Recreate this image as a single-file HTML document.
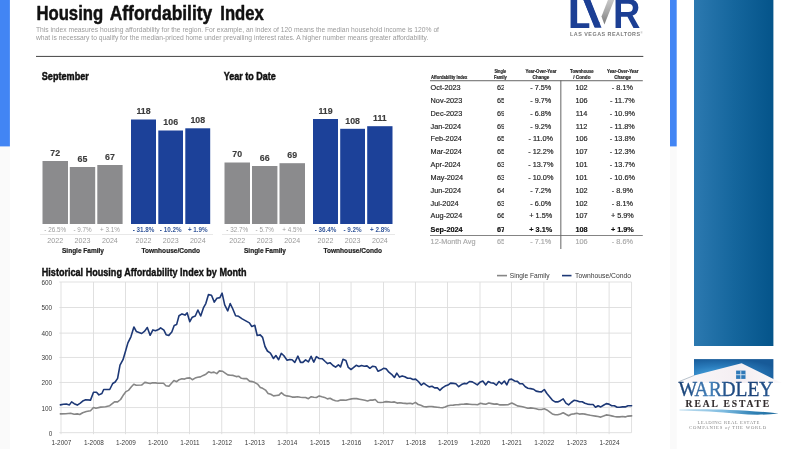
<!DOCTYPE html>
<html lang="en">
<head>
<meta charset="utf-8">
<title>Housing Affordability Index</title>
<style>
html,body{margin:0;padding:0;background:#fff;}
body{width:800px;height:449px;overflow:hidden;position:relative;font-family:"Liberation Sans",sans-serif;}
svg{display:block;position:absolute;left:0;top:0;overflow:visible;}
text{font-family:"Liberation Sans",sans-serif;}
.b{font-weight:bold;}
.serif{font-family:"Liberation Serif",serif;}
</style>
</head>
<body>
<svg width="800" height="449" viewBox="0 0 800 449">
<defs>
<linearGradient id="gpanel" x1="0" y1="0" x2="1" y2="0">
<stop offset="0" stop-color="#2c79b0"/><stop offset="0.5" stop-color="#15669d"/><stop offset="1" stop-color="#04548a"/>
</linearGradient>
<radialGradient id="glogo" cx="0.3" cy="0.75" r="0.8">
<stop offset="0" stop-color="#4aa6e0"/><stop offset="0.5" stop-color="#2a7cbc"/><stop offset="1" stop-color="#175a98"/>
</radialGradient>
<linearGradient id="gward" gradientUnits="userSpaceOnUse" x1="678" y1="0" x2="774" y2="0">
<stop offset="0" stop-color="#173d6e"/><stop offset="0.12" stop-color="#1f4f88"/><stop offset="0.33" stop-color="#4684bd"/><stop offset="0.52" stop-color="#1f4c84"/><stop offset="0.8" stop-color="#1b4278"/><stop offset="1" stop-color="#2a5d98"/>
</linearGradient>
<linearGradient id="gsilver" x1="0" y1="0" x2="0" y2="1">
<stop offset="0" stop-color="#c8c8c8"/><stop offset="0.5" stop-color="#a8a8a8"/><stop offset="1" stop-color="#7a7a7a"/>
</linearGradient>
<linearGradient id="gswoosh" x1="0" y1="0" x2="1" y2="0">
<stop offset="0" stop-color="#c4e0f0"/><stop offset="0.45" stop-color="#7dbbe0"/><stop offset="0.75" stop-color="#2f80b4"/><stop offset="1" stop-color="#1f6a9c"/>
</linearGradient>
<linearGradient id="groof" gradientUnits="userSpaceOnUse" x1="676" y1="0" x2="782" y2="0"><stop offset="0" stop-color="#ffffff"/><stop offset="0.25" stop-color="#f8f4f6"/><stop offset="0.6" stop-color="#f4eef2"/><stop offset="1" stop-color="#fbf9fa"/></linearGradient>
<clipPath id="sfclip"><rect x="480" y="60" width="24.1" height="200"/></clipPath>
</defs>
<rect x="-5" y="-5" width="810" height="459" fill="#ffffff"/>

<rect x="-5" y="146" width="14.9" height="310" fill="#fafafa"/>
<rect x="670" y="146" width="6.7" height="310" fill="#fafafa"/>
<rect x="-5" y="-5" width="14.9" height="151.4" fill="#4285f4"/>
<rect x="670" y="-5" width="6.7" height="151.4" fill="#4285f4"/>
<rect x="694" y="-5" width="79.4" height="351" fill="url(#gpanel)"/>
<g class="b" font-size="20.4" fill="#111" stroke="#111" stroke-width="0.5" stroke-linejoin="round">
<text x="36.4" y="20.3" textLength="66.8" lengthAdjust="spacingAndGlyphs">Housing</text>
<text x="109.7" y="20.3" textLength="102.6" lengthAdjust="spacingAndGlyphs">Affordability</text>
<text x="220.3" y="20.3" textLength="43.5" lengthAdjust="spacingAndGlyphs">Index</text>
</g>
<text x="36" y="32.3" font-size="6.9" fill="#9a9a9a" textLength="403" lengthAdjust="spacingAndGlyphs">This index measures housing affordability for the region. For example, an index of 120 means the median household income is 120% of</text>
<text x="36" y="39.5" font-size="6.9" fill="#9a9a9a" textLength="392.3" lengthAdjust="spacingAndGlyphs">what is necessary to qualify for the median-priced home under prevailing interest rates. A higher number means greater affordability.</text>
<rect x="36" y="55.9" width="607.3" height="1.1" fill="#555"/>
<g id="lvr">
<clipPath id="lclip"><rect x="560" y="0" width="29.3" height="40"/></clipPath>
<clipPath id="vclip"><polygon points="583.1,-1 590.0,-1 601.4,27.6 594.5,27.6"/></clipPath>
<g class="b" font-size="10" fill="#1c3f94">
<g clip-path="url(#lclip)"><text transform="translate(567.45,27.5) scale(4.58,4.2)">L</text></g>
<g clip-path="url(#vclip)"><text transform="translate(582.0,27.5) scale(5,4.2)" stroke="#1c3f94" stroke-width="0.5">V</text></g>
<text transform="translate(612.95,27.5) scale(3.8,4.2)">R</text>
</g>
<polygon points="608.1,-0.5 614.4,-0.5 604.4,24.4 601.5,16.6" fill="url(#gsilver)"/>
<text x="570.1" y="35.9" font-size="5.4" font-weight="bold" fill="#7c7c7c" textLength="70" lengthAdjust="spacing">LAS VEGAS REALTORS</text>
<text x="640.4" y="34.2" font-size="2.8" fill="#888">®</text>
</g>
<text x="41.8" y="80.1" class="b" font-size="10.3" fill="#111" stroke="#111" stroke-width="0.45" textLength="47" lengthAdjust="spacingAndGlyphs">September</text>
<text x="223.8" y="80.1" class="b" font-size="10.3" fill="#111" stroke="#111" stroke-width="0.45" textLength="52" lengthAdjust="spacingAndGlyphs">Year to Date</text>
<rect x="42.5" y="161" width="25.50" height="63.00" fill="#8b8b8d"/>
<text x="55.2" y="155.8" font-size="8.8" font-weight="bold" fill="#3c3c3c" stroke="#3c3c3c" stroke-width="0.15" text-anchor="middle">72</text>
<text x="55.2" y="232.3" font-size="6.3" fill="#9c9c9c" text-anchor="middle">- 26.5%</text>
<text x="55.2" y="243.4" font-size="7.1" fill="#999" text-anchor="middle">2022</text>
<rect x="69.8" y="167" width="25.40" height="57.00" fill="#8b8b8d"/>
<text x="82.5" y="161.8" font-size="8.8" font-weight="bold" fill="#3c3c3c" stroke="#3c3c3c" stroke-width="0.15" text-anchor="middle">65</text>
<text x="82.5" y="232.3" font-size="6.3" fill="#9c9c9c" text-anchor="middle">- 9.7%</text>
<text x="82.5" y="243.4" font-size="7.1" fill="#999" text-anchor="middle">2023</text>
<rect x="97.3" y="165" width="25.30" height="59.00" fill="#8b8b8d"/>
<text x="109.9" y="159.8" font-size="8.8" font-weight="bold" fill="#3c3c3c" stroke="#3c3c3c" stroke-width="0.15" text-anchor="middle">67</text>
<text x="109.9" y="232.3" font-size="6.3" fill="#9c9c9c" text-anchor="middle">+ 3.1%</text>
<text x="109.9" y="243.4" font-size="7.1" fill="#999" text-anchor="middle">2024</text>
<rect x="40" y="234.1" width="85" height="0.6" fill="#d8d8d8"/>
<text x="62" y="253.2" class="b" font-size="6.8" fill="#222" stroke="#222" stroke-width="0.2" textLength="42.0" lengthAdjust="spacingAndGlyphs">Single Family</text>
<rect x="131" y="119.5" width="25.00" height="104.50" fill="#1c4199"/>
<text x="143.5" y="114.3" font-size="8.8" font-weight="bold" fill="#3c3c3c" stroke="#3c3c3c" stroke-width="0.15" text-anchor="middle">118</text>
<text x="143.5" y="232.3" font-size="6.3" font-weight="bold" fill="#34579b" text-anchor="middle">- 31.8%</text>
<text x="143.5" y="243.4" font-size="7.1" fill="#999" text-anchor="middle">2022</text>
<rect x="158.3" y="130.5" width="24.70" height="93.50" fill="#1c4199"/>
<text x="170.7" y="125.3" font-size="8.8" font-weight="bold" fill="#3c3c3c" stroke="#3c3c3c" stroke-width="0.15" text-anchor="middle">106</text>
<text x="170.7" y="232.3" font-size="6.3" font-weight="bold" fill="#34579b" text-anchor="middle">- 10.2%</text>
<text x="170.7" y="243.4" font-size="7.1" fill="#999" text-anchor="middle">2023</text>
<rect x="185.3" y="128.3" width="24.90" height="95.70" fill="#1c4199"/>
<text x="197.8" y="123.1" font-size="8.8" font-weight="bold" fill="#3c3c3c" stroke="#3c3c3c" stroke-width="0.15" text-anchor="middle">108</text>
<text x="197.8" y="232.3" font-size="6.3" font-weight="bold" fill="#34579b" text-anchor="middle">+ 1.9%</text>
<text x="197.8" y="243.4" font-size="7.1" fill="#999" text-anchor="middle">2024</text>
<rect x="125" y="234.1" width="88" height="0.6" fill="#d8d8d8"/>
<text x="141.5" y="253.2" class="b" font-size="6.8" fill="#222" stroke="#222" stroke-width="0.2" textLength="58.5" lengthAdjust="spacingAndGlyphs">Townhouse/Condo</text>
<rect x="224.5" y="162.5" width="25.50" height="61.50" fill="#8b8b8d"/>
<text x="237.2" y="157.3" font-size="8.8" font-weight="bold" fill="#3c3c3c" stroke="#3c3c3c" stroke-width="0.15" text-anchor="middle">70</text>
<text x="237.2" y="232.3" font-size="6.3" fill="#9c9c9c" text-anchor="middle">- 32.7%</text>
<text x="237.2" y="243.4" font-size="7.1" fill="#999" text-anchor="middle">2022</text>
<rect x="252" y="166" width="25.40" height="58.00" fill="#8b8b8d"/>
<text x="264.7" y="160.8" font-size="8.8" font-weight="bold" fill="#3c3c3c" stroke="#3c3c3c" stroke-width="0.15" text-anchor="middle">66</text>
<text x="264.7" y="232.3" font-size="6.3" fill="#9c9c9c" text-anchor="middle">- 5.7%</text>
<text x="264.7" y="243.4" font-size="7.1" fill="#999" text-anchor="middle">2023</text>
<rect x="279.5" y="163.2" width="25.50" height="60.80" fill="#8b8b8d"/>
<text x="292.2" y="158.0" font-size="8.8" font-weight="bold" fill="#3c3c3c" stroke="#3c3c3c" stroke-width="0.15" text-anchor="middle">69</text>
<text x="292.2" y="232.3" font-size="6.3" fill="#9c9c9c" text-anchor="middle">+ 4.5%</text>
<text x="292.2" y="243.4" font-size="7.1" fill="#999" text-anchor="middle">2024</text>
<rect x="222" y="234.1" width="86" height="0.6" fill="#d8d8d8"/>
<text x="244" y="253.2" class="b" font-size="6.8" fill="#222" stroke="#222" stroke-width="0.2" textLength="42.0" lengthAdjust="spacingAndGlyphs">Single Family</text>
<rect x="313" y="119" width="25.00" height="105.00" fill="#1c4199"/>
<text x="325.5" y="113.8" font-size="8.8" font-weight="bold" fill="#3c3c3c" stroke="#3c3c3c" stroke-width="0.15" text-anchor="middle">119</text>
<text x="325.5" y="232.3" font-size="6.3" font-weight="bold" fill="#34579b" text-anchor="middle">- 36.4%</text>
<text x="325.5" y="243.4" font-size="7.1" fill="#999" text-anchor="middle">2022</text>
<rect x="340.2" y="128.8" width="24.80" height="95.20" fill="#1c4199"/>
<text x="352.6" y="123.6" font-size="8.8" font-weight="bold" fill="#3c3c3c" stroke="#3c3c3c" stroke-width="0.15" text-anchor="middle">108</text>
<text x="352.6" y="232.3" font-size="6.3" font-weight="bold" fill="#34579b" text-anchor="middle">- 9.2%</text>
<text x="352.6" y="243.4" font-size="7.1" fill="#999" text-anchor="middle">2023</text>
<rect x="367.2" y="126.2" width="25.30" height="97.80" fill="#1c4199"/>
<text x="379.9" y="121.0" font-size="8.8" font-weight="bold" fill="#3c3c3c" stroke="#3c3c3c" stroke-width="0.15" text-anchor="middle">111</text>
<text x="379.9" y="232.3" font-size="6.3" font-weight="bold" fill="#34579b" text-anchor="middle">+ 2.8%</text>
<text x="379.9" y="243.4" font-size="7.1" fill="#999" text-anchor="middle">2024</text>
<rect x="308" y="234.1" width="87" height="0.6" fill="#d8d8d8"/>
<text x="323.5" y="253.2" class="b" font-size="6.8" fill="#222" stroke="#222" stroke-width="0.2" textLength="58.5" lengthAdjust="spacingAndGlyphs">Townhouse/Condo</text>
<g id="table">
<text x="431" y="78.8" font-size="5.1" font-weight="bold" fill="#222" stroke="#222" stroke-width="0.18" lengthAdjust="spacingAndGlyphs" textLength="36.4">Affordability Index</text>
<text x="494.4" y="73.4" font-size="5.1" font-weight="bold" fill="#222" stroke="#222" stroke-width="0.18" lengthAdjust="spacingAndGlyphs" textLength="11.7">Single</text>
<text x="493.9" y="78.8" font-size="5.1" font-weight="bold" fill="#222" stroke="#222" stroke-width="0.18" lengthAdjust="spacingAndGlyphs" textLength="12.9">Family</text>
<text x="525.5" y="73.4" font-size="5.1" font-weight="bold" fill="#222" stroke="#222" stroke-width="0.18" lengthAdjust="spacingAndGlyphs" textLength="31">Year-Over-Year</text>
<text x="532.6" y="78.8" font-size="5.1" font-weight="bold" fill="#222" stroke="#222" stroke-width="0.18" lengthAdjust="spacingAndGlyphs" textLength="16.7">Change</text>
<text x="570.1" y="73.4" font-size="5.1" font-weight="bold" fill="#222" stroke="#222" stroke-width="0.18" lengthAdjust="spacingAndGlyphs" textLength="23.6">Townhouse</text>
<text x="573.3" y="78.8" font-size="5.1" font-weight="bold" fill="#222" stroke="#222" stroke-width="0.18" lengthAdjust="spacingAndGlyphs" textLength="17.2">/ Condo</text>
<text x="607.0" y="73.4" font-size="5.1" font-weight="bold" fill="#222" stroke="#222" stroke-width="0.18" lengthAdjust="spacingAndGlyphs" textLength="31.4">Year-Over-Year</text>
<text x="614.2" y="78.8" font-size="5.1" font-weight="bold" fill="#222" stroke="#222" stroke-width="0.18" lengthAdjust="spacingAndGlyphs" textLength="16.9">Change</text>
<rect x="430" y="80.3" width="212.8" height="0.9" fill="#555"/>
<rect x="560.4" y="80.5" width="0.9" height="168.5" fill="#555"/>
<text x="430.6" y="90.1" font-size="7.3" stroke="#262626" stroke-width="0.18" fill="#262626">Oct-2023</text>
<text x="496.9" y="90.1" font-size="7.3" stroke="#262626" stroke-width="0.18" fill="#262626" clip-path="url(#sfclip)">62</text>
<text x="540.8" y="90.1" font-size="7.3" stroke="#262626" stroke-width="0.18" fill="#262626" text-anchor="middle">- 7.5%</text>
<text x="581.6" y="90.1" font-size="7.3" stroke="#262626" stroke-width="0.18" fill="#262626" text-anchor="middle">102</text>
<text x="622.4" y="90.1" font-size="7.3" stroke="#262626" stroke-width="0.18" fill="#262626" text-anchor="middle">- 8.1%</text>
<text x="430.6" y="102.9" font-size="7.3" stroke="#262626" stroke-width="0.18" fill="#262626">Nov-2023</text>
<text x="496.9" y="102.9" font-size="7.3" stroke="#262626" stroke-width="0.18" fill="#262626" clip-path="url(#sfclip)">65</text>
<text x="540.8" y="102.9" font-size="7.3" stroke="#262626" stroke-width="0.18" fill="#262626" text-anchor="middle">- 9.7%</text>
<text x="581.6" y="102.9" font-size="7.3" stroke="#262626" stroke-width="0.18" fill="#262626" text-anchor="middle">106</text>
<text x="622.4" y="102.9" font-size="7.3" stroke="#262626" stroke-width="0.18" fill="#262626" text-anchor="middle">- 11.7%</text>
<text x="430.6" y="115.8" font-size="7.3" stroke="#262626" stroke-width="0.18" fill="#262626">Dec-2023</text>
<text x="496.9" y="115.8" font-size="7.3" stroke="#262626" stroke-width="0.18" fill="#262626" clip-path="url(#sfclip)">69</text>
<text x="540.8" y="115.8" font-size="7.3" stroke="#262626" stroke-width="0.18" fill="#262626" text-anchor="middle">- 6.8%</text>
<text x="581.6" y="115.8" font-size="7.3" stroke="#262626" stroke-width="0.18" fill="#262626" text-anchor="middle">114</text>
<text x="622.4" y="115.8" font-size="7.3" stroke="#262626" stroke-width="0.18" fill="#262626" text-anchor="middle">- 10.9%</text>
<text x="430.6" y="128.6" font-size="7.3" stroke="#262626" stroke-width="0.18" fill="#262626">Jan-2024</text>
<text x="496.9" y="128.6" font-size="7.3" stroke="#262626" stroke-width="0.18" fill="#262626" clip-path="url(#sfclip)">69</text>
<text x="540.8" y="128.6" font-size="7.3" stroke="#262626" stroke-width="0.18" fill="#262626" text-anchor="middle">- 9.2%</text>
<text x="581.6" y="128.6" font-size="7.3" stroke="#262626" stroke-width="0.18" fill="#262626" text-anchor="middle">112</text>
<text x="622.4" y="128.6" font-size="7.3" stroke="#262626" stroke-width="0.18" fill="#262626" text-anchor="middle">- 11.8%</text>
<text x="430.6" y="141.4" font-size="7.3" stroke="#262626" stroke-width="0.18" fill="#262626">Feb-2024</text>
<text x="496.9" y="141.4" font-size="7.3" stroke="#262626" stroke-width="0.18" fill="#262626" clip-path="url(#sfclip)">65</text>
<text x="540.8" y="141.4" font-size="7.3" stroke="#262626" stroke-width="0.18" fill="#262626" text-anchor="middle">- 11.0%</text>
<text x="581.6" y="141.4" font-size="7.3" stroke="#262626" stroke-width="0.18" fill="#262626" text-anchor="middle">106</text>
<text x="622.4" y="141.4" font-size="7.3" stroke="#262626" stroke-width="0.18" fill="#262626" text-anchor="middle">- 13.8%</text>
<text x="430.6" y="154.2" font-size="7.3" stroke="#262626" stroke-width="0.18" fill="#262626">Mar-2024</text>
<text x="496.9" y="154.2" font-size="7.3" stroke="#262626" stroke-width="0.18" fill="#262626" clip-path="url(#sfclip)">65</text>
<text x="540.8" y="154.2" font-size="7.3" stroke="#262626" stroke-width="0.18" fill="#262626" text-anchor="middle">- 12.2%</text>
<text x="581.6" y="154.2" font-size="7.3" stroke="#262626" stroke-width="0.18" fill="#262626" text-anchor="middle">107</text>
<text x="622.4" y="154.2" font-size="7.3" stroke="#262626" stroke-width="0.18" fill="#262626" text-anchor="middle">- 12.3%</text>
<text x="430.6" y="167.1" font-size="7.3" stroke="#262626" stroke-width="0.18" fill="#262626">Apr-2024</text>
<text x="496.9" y="167.1" font-size="7.3" stroke="#262626" stroke-width="0.18" fill="#262626" clip-path="url(#sfclip)">63</text>
<text x="540.8" y="167.1" font-size="7.3" stroke="#262626" stroke-width="0.18" fill="#262626" text-anchor="middle">- 13.7%</text>
<text x="581.6" y="167.1" font-size="7.3" stroke="#262626" stroke-width="0.18" fill="#262626" text-anchor="middle">101</text>
<text x="622.4" y="167.1" font-size="7.3" stroke="#262626" stroke-width="0.18" fill="#262626" text-anchor="middle">- 13.7%</text>
<text x="430.6" y="179.9" font-size="7.3" stroke="#262626" stroke-width="0.18" fill="#262626">May-2024</text>
<text x="496.9" y="179.9" font-size="7.3" stroke="#262626" stroke-width="0.18" fill="#262626" clip-path="url(#sfclip)">63</text>
<text x="540.8" y="179.9" font-size="7.3" stroke="#262626" stroke-width="0.18" fill="#262626" text-anchor="middle">- 10.0%</text>
<text x="581.6" y="179.9" font-size="7.3" stroke="#262626" stroke-width="0.18" fill="#262626" text-anchor="middle">101</text>
<text x="622.4" y="179.9" font-size="7.3" stroke="#262626" stroke-width="0.18" fill="#262626" text-anchor="middle">- 10.6%</text>
<text x="430.6" y="192.7" font-size="7.3" stroke="#262626" stroke-width="0.18" fill="#262626">Jun-2024</text>
<text x="496.9" y="192.7" font-size="7.3" stroke="#262626" stroke-width="0.18" fill="#262626" clip-path="url(#sfclip)">64</text>
<text x="540.8" y="192.7" font-size="7.3" stroke="#262626" stroke-width="0.18" fill="#262626" text-anchor="middle">- 7.2%</text>
<text x="581.6" y="192.7" font-size="7.3" stroke="#262626" stroke-width="0.18" fill="#262626" text-anchor="middle">102</text>
<text x="622.4" y="192.7" font-size="7.3" stroke="#262626" stroke-width="0.18" fill="#262626" text-anchor="middle">- 8.9%</text>
<text x="430.6" y="205.6" font-size="7.3" stroke="#262626" stroke-width="0.18" fill="#262626">Jul-2024</text>
<text x="496.9" y="205.6" font-size="7.3" stroke="#262626" stroke-width="0.18" fill="#262626" clip-path="url(#sfclip)">63</text>
<text x="540.8" y="205.6" font-size="7.3" stroke="#262626" stroke-width="0.18" fill="#262626" text-anchor="middle">- 6.0%</text>
<text x="581.6" y="205.6" font-size="7.3" stroke="#262626" stroke-width="0.18" fill="#262626" text-anchor="middle">102</text>
<text x="622.4" y="205.6" font-size="7.3" stroke="#262626" stroke-width="0.18" fill="#262626" text-anchor="middle">- 8.1%</text>
<text x="430.6" y="218.4" font-size="7.3" stroke="#262626" stroke-width="0.18" fill="#262626">Aug-2024</text>
<text x="496.9" y="218.4" font-size="7.3" stroke="#262626" stroke-width="0.18" fill="#262626" clip-path="url(#sfclip)">66</text>
<text x="540.8" y="218.4" font-size="7.3" stroke="#262626" stroke-width="0.18" fill="#262626" text-anchor="middle">+ 1.5%</text>
<text x="581.6" y="218.4" font-size="7.3" stroke="#262626" stroke-width="0.18" fill="#262626" text-anchor="middle">107</text>
<text x="622.4" y="218.4" font-size="7.3" stroke="#262626" stroke-width="0.18" fill="#262626" text-anchor="middle">+ 5.9%</text>
<text x="430.6" y="231.6" font-size="7.3" font-weight="bold" stroke="#111" stroke-width="0.18" fill="#111">Sep-2024</text>
<text x="496.9" y="231.6" font-size="7.3" font-weight="bold" stroke="#111" stroke-width="0.18" fill="#111" clip-path="url(#sfclip)">67</text>
<text x="540.8" y="231.6" font-size="7.3" font-weight="bold" stroke="#111" stroke-width="0.18" fill="#111" text-anchor="middle">+ 3.1%</text>
<text x="581.6" y="231.6" font-size="7.3" font-weight="bold" stroke="#111" stroke-width="0.18" fill="#111" text-anchor="middle">108</text>
<text x="622.4" y="231.6" font-size="7.3" font-weight="bold" stroke="#111" stroke-width="0.18" fill="#111" text-anchor="middle">+ 1.9%</text>
<text x="430.6" y="244.4" font-size="7.3" stroke="#aaa" stroke-width="0.18" fill="#aaa">12-Month Avg</text>
<text x="496.9" y="244.4" font-size="7.3" stroke="#aaa" stroke-width="0.18" fill="#aaa" clip-path="url(#sfclip)">65</text>
<text x="540.8" y="244.4" font-size="7.3" stroke="#aaa" stroke-width="0.18" fill="#aaa" text-anchor="middle">- 7.1%</text>
<text x="581.6" y="244.4" font-size="7.3" stroke="#aaa" stroke-width="0.18" fill="#aaa" text-anchor="middle">106</text>
<text x="622.4" y="244.4" font-size="7.3" stroke="#aaa" stroke-width="0.18" fill="#aaa" text-anchor="middle">- 8.6%</text>
<rect x="430" y="235" width="212.8" height="0.8" fill="#666"/>
</g>
<g id="hist">
<text x="41.8" y="275.5" class="b" font-size="10.6" fill="#111" stroke="#111" stroke-width="0.4" textLength="204.8" lengthAdjust="spacingAndGlyphs">Historical Housing Affordability Index by Month</text>
<rect x="59.35" y="281.55" width="572.2" height="0.9" fill="#dddddd"/>
<text x="52.2" y="284.9" font-size="6.4" fill="#3a3a3a" text-anchor="end">600</text>
<rect x="59.35" y="307.05" width="572.2" height="0.9" fill="#dddddd"/>
<text x="52.2" y="310.4" font-size="6.4" fill="#3a3a3a" text-anchor="end">500</text>
<rect x="59.35" y="332.65" width="572.2" height="0.9" fill="#dddddd"/>
<text x="52.2" y="336.0" font-size="6.4" fill="#3a3a3a" text-anchor="end">400</text>
<rect x="59.35" y="356.95" width="572.2" height="0.9" fill="#dddddd"/>
<text x="52.2" y="360.3" font-size="6.4" fill="#3a3a3a" text-anchor="end">300</text>
<rect x="59.35" y="381.95" width="572.2" height="0.9" fill="#dddddd"/>
<text x="52.2" y="385.3" font-size="6.4" fill="#3a3a3a" text-anchor="end">200</text>
<rect x="59.35" y="407.15" width="572.2" height="0.9" fill="#dddddd"/>
<text x="52.2" y="410.5" font-size="6.4" fill="#3a3a3a" text-anchor="end">100</text>
<rect x="59.35" y="432.25" width="572.2" height="0.9" fill="#dddddd"/>
<text x="52.2" y="435.6" font-size="6.4" fill="#3a3a3a" text-anchor="end">0</text>
<rect x="60.55" y="282.0" width="0.9" height="152.2" fill="#dddddd"/>
<text x="61.4" y="445.4" font-size="6.4" fill="#3a3a3a" text-anchor="middle">1-2007</text>
<rect x="93.05" y="282.0" width="0.9" height="152.2" fill="#dddddd"/>
<text x="93.9" y="445.4" font-size="6.4" fill="#3a3a3a" text-anchor="middle">1-2008</text>
<rect x="125.00" y="282.0" width="0.9" height="152.2" fill="#dddddd"/>
<text x="125.9" y="445.4" font-size="6.4" fill="#3a3a3a" text-anchor="middle">1-2009</text>
<rect x="157.05" y="282.0" width="0.9" height="152.2" fill="#dddddd"/>
<text x="157.9" y="445.4" font-size="6.4" fill="#3a3a3a" text-anchor="middle">1-2010</text>
<rect x="189.05" y="282.0" width="0.9" height="152.2" fill="#dddddd"/>
<text x="189.9" y="445.4" font-size="6.4" fill="#3a3a3a" text-anchor="middle">1-2011</text>
<rect x="221.30" y="282.0" width="0.9" height="152.2" fill="#dddddd"/>
<text x="222.2" y="445.4" font-size="6.4" fill="#3a3a3a" text-anchor="middle">1-2012</text>
<rect x="253.95" y="282.0" width="0.9" height="152.2" fill="#dddddd"/>
<text x="254.8" y="445.4" font-size="6.4" fill="#3a3a3a" text-anchor="middle">1-2013</text>
<rect x="286.50" y="282.0" width="0.9" height="152.2" fill="#dddddd"/>
<text x="287.3" y="445.4" font-size="6.4" fill="#3a3a3a" text-anchor="middle">1-2014</text>
<rect x="319.10" y="282.0" width="0.9" height="152.2" fill="#dddddd"/>
<text x="319.9" y="445.4" font-size="6.4" fill="#3a3a3a" text-anchor="middle">1-2015</text>
<rect x="350.60" y="282.0" width="0.9" height="152.2" fill="#dddddd"/>
<text x="351.4" y="445.4" font-size="6.4" fill="#3a3a3a" text-anchor="middle">1-2016</text>
<rect x="383.10" y="282.0" width="0.9" height="152.2" fill="#dddddd"/>
<text x="383.9" y="445.4" font-size="6.4" fill="#3a3a3a" text-anchor="middle">1-2017</text>
<rect x="414.95" y="282.0" width="0.9" height="152.2" fill="#dddddd"/>
<text x="415.8" y="445.4" font-size="6.4" fill="#3a3a3a" text-anchor="middle">1-2018</text>
<rect x="447.10" y="282.0" width="0.9" height="152.2" fill="#dddddd"/>
<text x="447.9" y="445.4" font-size="6.4" fill="#3a3a3a" text-anchor="middle">1-2019</text>
<rect x="479.55" y="282.0" width="0.9" height="152.2" fill="#dddddd"/>
<text x="480.4" y="445.4" font-size="6.4" fill="#3a3a3a" text-anchor="middle">1-2020</text>
<rect x="510.95" y="282.0" width="0.9" height="152.2" fill="#dddddd"/>
<text x="511.8" y="445.4" font-size="6.4" fill="#3a3a3a" text-anchor="middle">1-2021</text>
<rect x="543.45" y="282.0" width="0.9" height="152.2" fill="#dddddd"/>
<text x="544.3" y="445.4" font-size="6.4" fill="#3a3a3a" text-anchor="middle">1-2022</text>
<rect x="575.95" y="282.0" width="0.9" height="152.2" fill="#dddddd"/>
<text x="576.8" y="445.4" font-size="6.4" fill="#3a3a3a" text-anchor="middle">1-2023</text>
<rect x="608.65" y="282.0" width="0.9" height="152.2" fill="#dddddd"/>
<text x="609.5" y="445.4" font-size="6.4" fill="#3a3a3a" text-anchor="middle">1-2024</text>
<rect x="631.15" y="282.0" width="0.9" height="150.7" fill="#dddddd"/>
<path d="M60.4,413.9 L65.8,413.7 L70.6,413.3 L74.2,414.3 L77.3,413.9 L79.7,414.5 L82.7,412.7 L86.3,411.5 L90.5,410.7 L93.5,407.5 L95.9,408.3 L100.7,407.1 L105.5,406.7 L109.7,405.7 L114.5,401.9 L117.6,401.9 L120.6,399.5 L123.6,394.7 L126.0,391.6 L128.4,390.4 L131.4,386.8 L133.8,384.2 L136.2,385.3 L141.6,385.0 L142.4,384.5 L144.8,382.4 L147.5,382.9 L150.2,383.6 L152.6,382.7 L155.4,382.9 L158.1,383.3 L160.7,383.3 L163.5,383.3 L165.9,385.7 L168.9,386.3 L171.5,383.3 L173.9,380.5 L176.7,381.7 L179.1,379.7 L181.9,378.8 L184.5,379.1 L187.2,378.1 L189.9,377.9 L192.3,379.7 L195.1,378.1 L197.7,377.3 L200.4,376.9 L203.2,375.4 L205.9,374.2 L208.6,371.8 L211.2,372.8 L214.0,372.1 L216.8,373.6 L219.4,370.9 L222.4,371.2 L225.2,373.1 L227.8,374.9 L230.5,375.2 L233.2,375.4 L236.2,376.6 L238.6,376.2 L241.4,378.3 L244.1,378.6 L246.7,378.6 L249.5,381.1 L252.2,381.6 L254.9,382.6 L257.5,384.1 L260.3,387.4 L262.7,388.3 L265.5,390.1 L268.1,393.4 L270.8,394.3 L273.5,395.9 L276.3,395.5 L278.9,395.1 L281.3,392.7 L284.0,394.9 L286.8,395.9 L289.5,396.3 L292.2,397.1 L294.8,397.1 L297.6,396.7 L300.4,397.3 L303.0,397.5 L305.6,397.5 L308.4,398.7 L311.2,396.7 L313.8,397.3 L316.5,397.5 L319.2,395.9 L321.9,396.7 L324.6,397.4 L327.4,398.9 L330.1,398.3 L332.7,399.8 L335.5,400.7 L337.9,401.0 L340.6,400.1 L343.3,400.1 L345.9,400.3 L348.7,399.5 L351.5,398.9 L354.1,398.5 L356.8,398.6 L359.5,399.2 L362.3,399.8 L364.9,400.3 L367.6,401.0 L370.4,400.1 L372.8,400.1 L375.2,399.5 L377.9,402.2 L380.6,402.5 L383.2,402.2 L386.0,401.6 L388.8,401.9 L391.4,402.2 L394.4,401.9 L397.2,403.1 L399.8,402.7 L402.5,403.1 L405.2,403.4 L407.0,403.6 L410.0,403.3 L412.7,403.9 L415.4,402.4 L418.2,404.5 L420.8,405.3 L423.5,406.5 L426.3,406.9 L429.0,406.5 L431.7,406.5 L434.3,406.9 L437.1,407.2 L439.9,407.5 L442.5,407.7 L445.1,406.9 L447.9,405.7 L450.7,405.3 L453.3,405.1 L456.0,404.8 L458.7,404.6 L461.5,404.2 L464.1,404.1 L466.8,403.9 L469.6,404.2 L472.3,404.5 L475.0,404.5 L477.6,404.8 L480.4,403.3 L483.2,403.9 L485.8,404.2 L488.8,403.0 L491.6,403.6 L494.2,404.1 L497.2,403.9 L500.0,404.9 L503.6,404.9 L508.4,404.6 L511.8,403.1 L514.4,404.3 L517.4,405.9 L519.9,406.3 L522.6,406.7 L525.3,407.5 L527.9,408.3 L530.7,407.9 L533.4,408.3 L536.1,408.7 L538.7,409.5 L541.5,409.5 L544.3,408.7 L546.9,409.9 L549.6,411.9 L552.3,413.9 L555.1,414.8 L557.7,414.8 L560.4,413.9 L563.2,412.7 L565.9,414.3 L568.6,415.7 L571.2,414.3 L574.0,413.9 L576.8,413.3 L579.5,414.1 L582.2,413.7 L584.9,414.1 L587.5,414.7 L590.3,415.3 L593.1,415.7 L595.5,416.1 L598.1,416.5 L600.8,417.1 L603.5,416.1 L606.3,414.9 L609.0,415.3 L611.6,415.9 L614.4,416.5 L617.1,416.9 L619.8,416.9 L622.4,416.5 L625.2,416.9 L628.0,416.1 L631.6,415.9" fill="none" stroke="#868686" stroke-width="1.6" stroke-linejoin="round" stroke-linecap="round"/>
<path d="M60.4,404.9 L63.4,404.3 L66.4,404.1 L69.4,404.9 L71.6,401.9 L74.2,403.7 L77.3,405.1 L80.3,403.1 L83.3,400.7 L85.7,399.8 L90.5,400.1 L93.5,392.3 L96.5,392.3 L98.9,394.9 L101.9,393.5 L103.7,389.5 L106.7,389.5 L109.7,389.5 L112.7,383.5 L115.2,382.0 L117.6,378.4 L120.0,365.1 L123.0,359.7 L125.5,351.3 L127.9,342.9 L130.9,336.8 L133.9,327.0 L136.3,331.4 L141.7,333.5 L144.7,331.1 L147.3,327.5 L150.1,335.3 L152.9,329.9 L155.5,330.8 L158.5,329.6 L160.6,327.8 L163.9,330.2 L166.1,334.7 L168.8,335.4 L171.8,332.0 L174.2,325.4 L176.6,324.6 L179.0,315.7 L182.0,313.9 L185.0,315.1 L187.2,312.9 L189.8,321.7 L192.3,317.2 L195.3,316.0 L197.9,310.0 L200.7,316.0 L203.4,307.9 L205.8,303.6 L208.5,294.6 L211.5,295.2 L214.3,302.1 L216.9,298.2 L219.9,297.6 L222.1,293.2 L224.7,304.9 L227.7,310.9 L230.2,303.6 L232.6,308.5 L235.6,315.7 L238.6,316.3 L242.2,318.9 L245.8,320.9 L249.4,322.9 L251.8,326.5 L254.8,325.3 L257.2,335.5 L260.2,334.9 L262.6,337.4 L265.0,346.5 L267.4,351.0 L270.4,353.1 L273.5,358.5 L275.9,355.5 L278.6,359.7 L281.3,353.4 L283.7,355.5 L287.1,360.3 L289.7,359.5 L292.1,359.7 L294.8,362.4 L297.9,356.1 L300.5,362.4 L302.9,362.4 L305.6,359.9 L308.4,361.9 L311.1,356.3 L313.8,362.1 L316.4,356.7 L319.2,358.5 L322.2,358.7 L325.2,361.5 L327.6,363.6 L330.0,362.7 L333.0,365.5 L335.6,367.2 L338.4,364.8 L340.5,366.9 L343.0,359.2 L345.9,360.4 L348.3,367.4 L351.0,369.5 L353.4,367.7 L356.2,365.3 L358.9,366.5 L361.5,365.5 L364.3,366.2 L367.0,365.9 L369.9,368.3 L372.7,366.2 L375.5,366.7 L378.1,371.3 L380.8,370.1 L383.5,368.3 L386.3,368.9 L388.9,372.2 L391.6,374.3 L394.4,377.5 L396.8,373.1 L399.5,377.1 L402.2,375.9 L404.8,376.7 L407.6,378.3 L410.4,378.3 L413.0,379.5 L415.6,379.1 L418.4,381.5 L421.2,385.1 L423.8,383.1 L426.5,385.1 L429.2,386.9 L432.0,386.3 L434.6,387.9 L437.4,387.9 L439.8,390.3 L442.4,387.9 L445.1,386.1 L447.9,385.1 L450.6,383.1 L453.3,383.4 L455.9,383.7 L458.7,386.7 L461.5,384.6 L464.1,383.4 L466.8,383.7 L469.5,381.5 L472.3,381.9 L474.9,383.4 L477.3,384.9 L480.4,381.9 L482.8,381.0 L485.8,384.9 L488.2,381.5 L490.8,382.7 L493.6,383.1 L496.4,385.1 L499.0,381.5 L501.6,383.9 L504.4,381.0 L506.8,384.9 L509.2,379.5 L511.6,379.1 L514.6,381.0 L517.4,381.4 L519.9,383.8 L522.6,383.8 L525.3,386.8 L527.9,388.3 L530.7,388.6 L533.4,389.2 L536.1,391.1 L538.7,391.6 L541.5,391.9 L544.3,389.5 L546.9,393.5 L549.6,396.7 L552.3,400.1 L555.1,401.9 L557.7,401.9 L560.4,400.7 L563.2,398.9 L565.9,403.1 L568.6,404.9 L571.2,402.5 L574.0,400.3 L576.8,400.7 L579.5,401.7 L582.2,401.7 L584.9,403.3 L587.5,404.1 L590.3,404.5 L593.1,404.5 L595.5,407.2 L598.1,405.7 L600.8,406.9 L603.5,405.3 L606.3,403.6 L609.0,404.1 L611.6,405.7 L614.4,405.7 L617.1,407.2 L619.8,407.2 L622.4,406.9 L625.2,406.9 L628.0,405.7 L631.6,405.7" fill="none" stroke="#1d3876" stroke-width="1.6" stroke-linejoin="round" stroke-linecap="round"/>
<rect x="497" y="274.8" width="10" height="1.6" fill="#868686"/>
<text x="509.8" y="278.0" font-size="6.8" fill="#383838" textLength="39.7" lengthAdjust="spacingAndGlyphs">Single Family</text>
<rect x="562" y="274.8" width="9.5" height="1.6" fill="#1d3876"/>
<text x="575" y="278.0" font-size="6.8" fill="#383838" textLength="56" lengthAdjust="spacingAndGlyphs">Townhouse/Condo</text>
</g>
<g id="wardley">
<rect x="694" y="359.1" width="79.4" height="21" fill="url(#glogo)"/>
<polygon points="676,383 694,375.4 741.6,363.2 773.4,378.9 782,383" fill="url(#groof)"/>
<polyline points="679.5,381.4 694,375.5" fill="none" stroke="#9aa7b5" stroke-width="0.7"/>
<rect x="736.1" y="370.6" width="9.4" height="8.3" fill="#2f79b8"/>
<rect x="740.35" y="370.6" width="0.9" height="8.3" fill="#dfe8f2"/>
<rect x="736.1" y="374.3" width="9.4" height="0.9" fill="#dfe8f2"/>
<text x="678.6" y="396.3" class="serif" font-size="21.8" fill="url(#gward)" stroke="url(#gward)" stroke-width="0.35" textLength="18.6" lengthAdjust="spacingAndGlyphs">W</text>
<text x="694.6" y="396.3" class="serif" font-size="20" fill="url(#gward)" stroke="url(#gward)" stroke-width="0.35" textLength="78.8" lengthAdjust="spacingAndGlyphs">ARDLEY</text>
<text x="685.6" y="406.6" class="serif" font-size="9.6" font-weight="bold" fill="#332d2e" stroke="#332d2e" stroke-width="0.15" textLength="83.6" lengthAdjust="spacing">REAL ESTATE</text>
<path d="M679.5,409.5 C702,408.6 742,409.2 778.6,413.6 C765,415 752,415 738,413.8 C718,411.9 700,410.7 679.5,410.4 Z" fill="url(#gswoosh)"/>
<text x="697.4" y="423.6" class="serif" font-size="4.7" fill="#858585" textLength="62" lengthAdjust="spacing">LEADING REAL ESTATE</text>
<text x="689.1" y="428.6" class="serif" font-size="4.7" fill="#858585" textLength="77" lengthAdjust="spacing">COMPANIES <tspan font-style="italic">of</tspan> THE WORLD</text>
</g>
</svg>
</body>
</html>
